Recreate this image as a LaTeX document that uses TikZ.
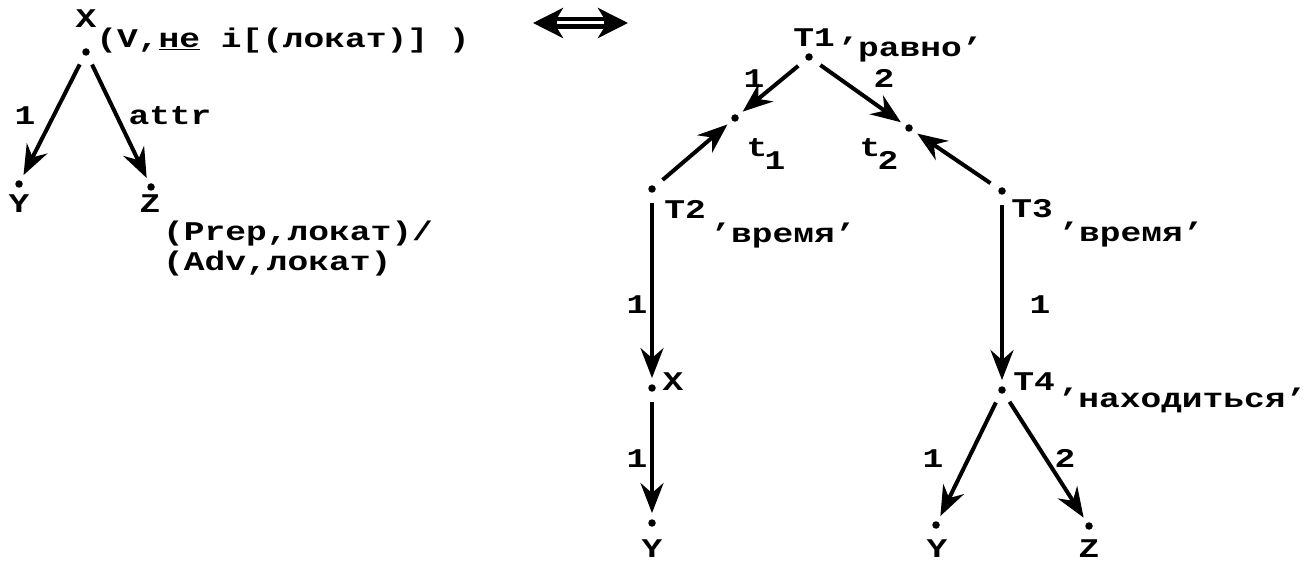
\documentclass[tikz,border=0pt]{standalone}
\usepackage{fontspec}
\setmonofont{Liberation Mono}[FakeStretch=1.28]
\usetikzlibrary{arrows.meta}
\newcommand\lblfont{\ttfamily\bfseries\fontsize{27}{30}\selectfont}
\begin{document}
\begin{tikzpicture}[x=1pt,y=-1pt,
  dot/.style={circle,fill=black,inner sep=0pt,minimum size=7.5pt},
  lab/.style={inner sep=0pt,font=\lblfont,anchor=base},
  labw/.style={inner sep=0pt,font=\lblfont,anchor=base west},
  conn/.style={draw=black,line width=4pt,-{Stealth[length=30pt,width=23pt,inset=10pt]},shorten <=10pt,shorten >=6pt},
  dblouter/.style={draw=black,line width=12pt,{Stealth[length=30pt,width=30pt,inset=9pt]}-{Stealth[length=30pt,width=30pt,inset=9pt]}},
  dblinner/.style={draw=white,line width=3pt,shorten <=24pt,shorten >=24pt}]
\useasboundingbox (0,0) rectangle (1311,561);
% left tree
\node[dot] (X) at (86,52) {};
\node[dot] (Y) at (19,184) {};
\node[dot] (Z) at (151,187) {};
\node[lab] (Xl) at (86,28) {X};
\node[lab] (Xf) at (283,48) {(V,\underline{не} i[(локат)] )};
\node[lab] (Yl) at (19,213) {Y};
\node[lab] (Zl) at (150,213) {Z};
\node[labw] (Zf1) at (163,241) {(Prep,локат)/};
\node[labw] (Zf2) at (163,271) {(Adv,локат)};
\path[conn] (X) -- (Y);
\path[conn] (X) -- (Z);
\node[lab] (e1) at (25,125) {1};
\node[lab] (e2) at (170,125) {attr};
% double arrow
\coordinate (da) at (533,23);
\coordinate (db) at (628,23);
\path[dblouter] (da) -- (db);
\path[dblinner] (da) -- (db);
% right tree
\node[dot] (T1) at (809,57) {};
\node[dot] (t1) at (735,118) {};
\node[dot] (t2) at (909,128) {};
\node[dot] (T2) at (652,189) {};
\node[dot] (T3) at (1002,191) {};
\node[dot] (X2) at (652,388) {};
\node[dot] (Y2) at (652,523) {};
\node[dot] (T4) at (1002,390) {};
\node[dot] (Y3) at (936,525) {};
\node[dot] (Z3) at (1089,526) {};
\path[conn] (T1) -- (t1);
\path[conn] (T1) -- (t2);
\path[conn] (T2) -- (t1);
\path[conn] (T3) -- (t2);
\path[conn] (T2) -- (X2);
\path[conn] (X2) -- (Y2);
\path[conn] (T3) -- (T4);
\path[conn] (T4) -- (Y3);
\path[conn] (T4) -- (Z3);
\node[lab] (T1l) at (814,47) {T1};
\node[lab] (T1f) at (910,57) {’равно’};
\node[lab] (e3) at (754,88) {1};
\node[lab] (e4) at (884,88) {2};
\node[lab] (t1l) at (757,157) {t};
\node[lab] (t1s) at (775,170) {1};
\node[lab] (t2l) at (870,157) {t};
\node[lab] (t2s) at (888,170) {2};
\node[lab] (T2l) at (685,219) {T2};
\node[lab] (T2f) at (783,243) {’время’};
\node[lab] (T3l) at (1032,218) {T3};
\node[lab] (T3f) at (1131,242) {’время’};
\node[lab] (X2l) at (673,390) {X};
\node[lab] (T4l) at (1034,390) {T4};
\node[lab] (T4f) at (1182,407) {’находиться’};
\node[lab] (Y2l) at (652,557) {Y};
\node[lab] (Y3l) at (937,557) {Y};
\node[lab] (Z3l) at (1089,557) {Z};
\node[lab] (e5) at (637,313) {1};
\node[lab] (e6) at (637,467) {1};
\node[lab] (e7) at (1040,313) {1};
\node[lab] (e8) at (933,467) {1};
\node[lab] (e9) at (1065,467) {2};
\end{tikzpicture}
\end{document}
